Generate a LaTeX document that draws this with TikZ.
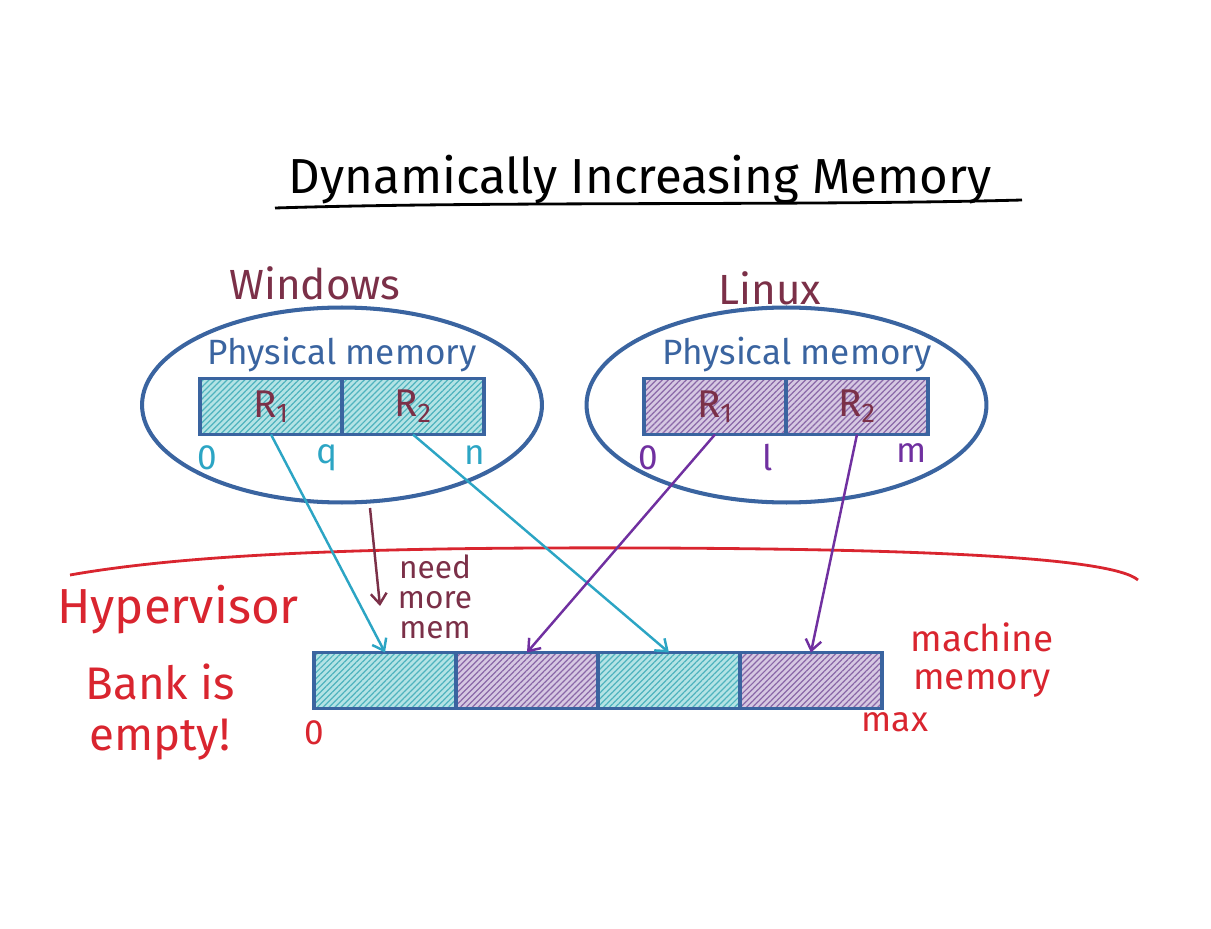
\documentclass[tikz,border=0pt]{standalone}
\usepackage{fontspec}
\setmainfont{Fira Sans}
\usepackage{tikz}
\usetikzlibrary{arrows.meta,positioning,shapes.geometric,patterns.meta}

\definecolor{memblue}{HTML}{3A64A0}
\definecolor{wine}{HTML}{7B3048}
\definecolor{tealtxt}{HTML}{2CA5C4}
\definecolor{tealbg}{HTML}{B4E3E5}
\definecolor{tealln}{HTML}{4FB3BE}
\definecolor{violtxt}{HTML}{7030A0}
\definecolor{violbg}{HTML}{D6C8E2}
\definecolor{violln}{HTML}{8A68A8}
\definecolor{hvred}{HTML}{D9252F}

\begin{document}
\begin{tikzpicture}[
    x=0.02cm, y=-0.02cm,
    vm/.style      ={draw=memblue, line width=2.3pt, ellipse, minimum width=8cm,
                     minimum height=3.9cm, inner sep=0pt},
    cell/.style    ={draw=memblue, line width=2.2pt, minimum width=2.84cm,
                     minimum height=1.12cm, inner sep=0pt, outer sep=0pt,
                     font=\fontsize{22}{24}\selectfont, text=wine},
    wincell/.style ={cell, preaction={fill=tealbg}, pattern color=tealln,
                     pattern={Lines[angle=45,distance=2.4pt,line width=0.7pt]}},
    lincell/.style ={cell, preaction={fill=violbg}, pattern color=violln,
                     pattern={Lines[angle=45,distance=2.4pt,line width=0.7pt]}},
    osname/.style  ={text=wine, font=\fontsize{24}{26}\selectfont},
    memname/.style ={text=memblue, font=\fontsize{20}{22}\selectfont},
    addr/.style    ={font=\fontsize{20}{22}\selectfont},
    hvtext/.style  ={text=hvred, align=center},
    map/.style     ={-{Straight Barb[length=6pt,width=9pt]}, line width=1.4pt}
  ]

  \useasboundingbox (0,0) rectangle (1211,929);

  % --- title ---------------------------------------------------------------
  \node[font=\fontsize{28}{32}\selectfont] (title) at (640,180) {Dynamically Increasing Memory};
  \draw[line width=1.6pt] (275,208) .. controls (500,201) and (800,206) .. (1022,200);

  % --- guests --------------------------------------------------------------
  \node[osname] (win) at (315,283) {Windows};
  \node[vm] (winvm) at (342,405) {};
  \node[memname] (winmem) at (342,355) {Physical memory};
  \node[wincell] (winR1) at (271,406.5) {R\textsubscript{1}};
  \node[wincell, right=0pt of winR1] (winR2) {R\textsubscript{2}};
  \node[addr, text=tealtxt] (win0) at (207,458) {0};
  \node[addr, text=tealtxt] (winq) at (327,458) {q};
  \node[addr, text=tealtxt] (winn) at (475,455) {n};

  \node[osname] (lin) at (770,288) {Linux};
  \node[vm] (linvm) at (786.5,405) {};
  \node[memname] (linmem) at (797,355) {Physical memory};
  \node[lincell] (linR1) at (715,406.5) {R\textsubscript{1}};
  \node[lincell, right=0pt of linR1] (linR2) {R\textsubscript{2}};
  \node[addr, text=violtxt] (lin0) at (648,458) {0};
  \node[addr, text=violtxt] (linl) at (768,458) {l};
  \node[addr, text=violtxt] (linm) at (912,453) {m};

  % --- hypervisor ----------------------------------------------------------
  \draw[hvred, line width=1.6pt] (70,575) .. controls (200,552) and (400,547) .. (650,548)
    .. controls (900,549) and (1110,556) .. (1138,580);
  \node[hvtext, font=\fontsize{28}{30}\selectfont] (hv) at (178,610) {Hypervisor};
  \node[hvtext, font=\fontsize{26}{29}\selectfont] (bank) at (160,712) {Bank is\\empty!};

  \node[wincell] (m1) at (385,680.5) {};
  \node[lincell, right=0pt of m1] (m2) {};
  \node[wincell, right=0pt of m2] (m3) {};
  \node[lincell, right=0pt of m3] (m4) {};
  \node[hvtext, font=\fontsize{20}{22}\selectfont] (m0) at (314,733) {0};
  \node[hvtext, font=\fontsize{20}{22}\selectfont] (mmax) at (895,722) {max};
  \node[hvtext, font=\fontsize{21}{22}\selectfont] (mname) at (982,660) {machine\\memory};

  % --- mappings ------------------------------------------------------------
  \draw[map, tealtxt] (winR1.south) -- (m1.north);
  \draw[map, tealtxt] (winR2.south) -- (m3.north);
  \draw[map, violtxt] (linR1.south) -- (m2.north);
  \draw[map, violtxt] (linR2.south) -- (m4.north);

  \coordinate (ask) at (370,508);
  \coordinate (askend) at (380,606);
  \draw[map, wine] (ask) -- (askend);
  \node[text=wine, align=center, font=\fontsize{18}{17}\selectfont] (need) at (435,597) {need\\more\\mem};

\end{tikzpicture}
\end{document}
